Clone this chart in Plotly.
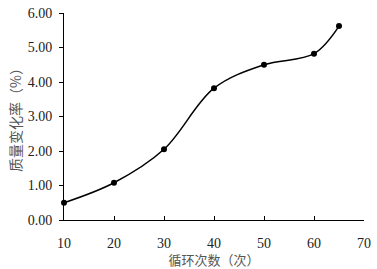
import plotly.graph_objects as go

cycles = [10, 20, 30, 40, 50, 60, 65]
mass_change = [0.50, 1.08, 2.05, 3.82, 4.50, 4.82, 5.62]
x_ticks = [10, 20, 30, 40, 50, 60, 70]
y_ticks = [0, 1, 2, 3, 4, 5, 6]

fig = go.Figure()
fig.add_trace(go.Scatter(
    x=cycles, y=mass_change, mode="lines+markers",
    line=dict(color="black", width=1.5, shape="spline", smoothing=1.0),
    marker=dict(color="black", size=6),
    showlegend=False,
    cliponaxis=False,
))

fig.update_layout(
    width=377, height=269,
    margin=dict(l=64, r=9, t=6, b=49),
    plot_bgcolor="white", paper_bgcolor="white",
    font=dict(family="Liberation Serif, Times New Roman, serif", size=14, color="#222"),
)
fig.update_xaxes(
    range=[10, 70], tickvals=x_ticks, ticktext=[str(v) for v in x_ticks],
    showgrid=False, zeroline=False, showline=True, linecolor="black", linewidth=1,
    ticks="inside", ticklen=4, tickcolor="black", ticklabelstandoff=10,
    ticklabeloverflow="allow",
    title=dict(text="循环次数（次）", font=dict(family="Noto Sans CJK SC", size=13, color="#555"), standoff=2),
)
fig.update_yaxes(
    range=[0, 6], tickvals=y_ticks, ticktext=[f"{v:.2f}" for v in y_ticks],
    showgrid=False, zeroline=False, showline=True, linecolor="black", linewidth=1,
    ticks="outside", ticklen=4, tickcolor="black", ticklabelstandoff=4,
    ticklabeloverflow="allow",
    title=dict(text="质量变化率（%）", font=dict(family="Noto Sans CJK SC", size=14, color="#555"), standoff=2),
)
fig.write_html("out.html", config={"displayModeBar": False},
               post_script="document.body.style.margin='0';")
